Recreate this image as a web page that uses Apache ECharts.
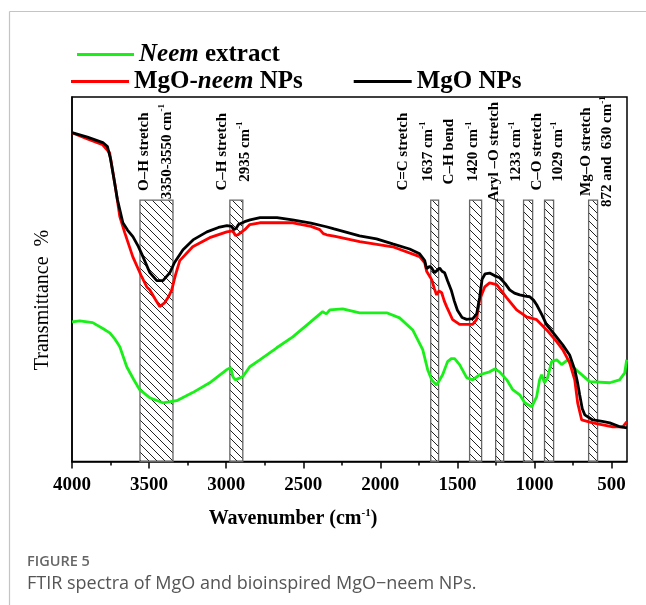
<!DOCTYPE html>
<html><head><meta charset="utf-8">
<script src="https://cdn.jsdelivr.net/npm/echarts@6/dist/echarts.min.js"></script>
<style>html,body{margin:0;padding:0;background:#fff}#c{width:646px;height:605px}</style>
</head><body><div id="c"></div>
<script>
// ---------- data ----------
const X_MAJOR = [4000, 3500, 3000, 2500, 2000, 1500, 1000, 500];
const X_MINOR = [3750, 3250, 2750, 2250, 1750, 1250, 750];

const NEEM_WN = [4000,3950,3866,3800,3755,3720,3690,3645,3600,3561,3496,3411,3321,3217,3107,2996,2970,2957,2940,2931,2892,2847,2782,2672,2568,2458,2374,2350,2328,2244,2134,1959,1875,1790,1725,1693,1667,1635,1596,1564,1540,1518,1486,1440,1401,1356,1291,1258,1226,1180,1141,1096,1063,1018,986,967,954,935,915,889,856,824,785,752,707,642,512,448,415,402];
const NEEM_T  = [38.3,38.6,38.1,36.5,35.3,33.5,31.5,26.0,22.5,19.7,17.5,16.1,16.7,18.9,21.6,25.2,25.8,23.3,22.4,22.7,23.3,26.0,27.9,31.2,34.2,38.1,41.1,40.5,41.6,41.9,40.8,40.8,39.4,36.1,30.7,25.2,22.4,21.0,23.8,27.4,28.2,28.2,26.6,23.0,22.4,23.8,24.6,25.4,24.6,22.4,19.7,18.3,16.1,15.0,17.8,22.4,23.8,21.6,23.0,27.4,27.9,26.6,27.9,26.0,24.3,21.9,21.6,22.4,24.3,27.9];

const MGONEEM_WN = [4000,3900,3801,3756,3723,3690,3658,3606,3548,3515,3496,3460,3431,3400,3370,3353,3330,3301,3217,3107,2996,2957,2940,2924,2900,2879,2847,2782,2568,2450,2393,2370,2348,2300,2134,1920,1745,1712,1699,1667,1650,1635,1620,1602,1585,1570,1531,1486,1401,1376,1356,1323,1291,1245,1180,1116,1051,986,921,856,817,772,739,720,694,622,492,427,402];
const MGONEEM_T  = [90.2,88.5,86.9,84.7,76.5,67.2,62.8,56.2,50.7,47.9,47.1,44.5,42.5,43.5,45.5,47.1,51.0,55.1,58.9,61.4,63.0,63.3,62.0,62.2,63.0,63.6,65.0,65.5,65.5,64.5,63.6,62.5,62.2,61.8,60.3,58.9,56.2,54.5,52.1,49.9,47.5,45.7,46.8,46.3,44.0,42.5,38.9,37.6,37.6,38.9,44.4,47.9,49.0,48.5,44.9,41.6,39.7,38.9,36.1,32.9,30.7,27.1,22.4,16.1,11.4,10.6,9.5,9.5,10.9];

const MGO_WN = [4000,3900,3800,3770,3750,3735,3705,3670,3640,3605,3570,3540,3495,3450,3410,3365,3335,3280,3215,3125,3050,2995,2965,2950,2935,2920,2880,2845,2780,2670,2570,2450,2350,2300,2135,2025,1920,1810,1745,1712,1700,1680,1667,1648,1630,1615,1600,1583,1564,1540,1520,1500,1470,1440,1400,1375,1356,1340,1320,1291,1260,1226,1190,1161,1130,1096,1060,1031,1005,986,955,921,869,817,772,739,720,707,690,674,622,560,512,450,400];
const MGO_T  = [90.2,89.0,87.5,86.4,83.0,79.3,71.8,65.5,63.5,61.7,59.0,56.2,51.8,49.6,49.6,51.8,54.6,58.1,60.8,63.0,64.2,64.7,64.5,63.6,64.0,65.0,65.8,66.3,66.9,66.9,66.3,65.4,64.4,63.8,61.9,61.1,59.7,58.3,57.0,55.1,52.9,53.5,53.1,51.8,52.5,53.1,52.2,51.8,49.6,47.0,44.0,41.5,39.5,39.0,39.2,40.5,45.0,50.0,51.5,51.7,51.0,50.4,48.8,47.1,46.2,45.7,45.4,45.2,44.2,43.0,40.5,37.5,34.8,32.0,29.2,25.2,21.5,18.3,14.5,12.8,11.4,11.0,10.6,9.6,9.2];

// hatched assignment bands (wavenumber high, low)
const BAND_HI = [3559, 2976, 1673, 1421, 1252, 1071, 935, 649];
const BAND_LO = [3345, 2892, 1622, 1343, 1200, 1012, 876, 591];
const HATCH_TOP = 71.7;

// annotation columns
const ANN_WN = [3529, 3386, 3029, 2880, 1855, 1693, 1551, 1395, 1259, 1116, 986, 844, 663, 527];
const ANN_TEXT = ['O–H stretch', '3350-3550 cm^-1', 'C–H stretch', '2935 cm^-1', 'C=C stretch', '1637 cm^-1',
  'C–H bend', '1420 cm^-1', 'Aryl –O stretch', '1233 cm^-1', 'C–O stretch', '1029 cm^-1', 'Mg–O stretch', '872 and  630 cm^-1'];
const ANN_Y = 85.0;

// ---------- chart ----------
const SERIF = "'Liberation Serif', 'Times New Roman', serif";
const zip = (a, b) => a.map((v, i) => [v, b[i]]);

function hatchCanvas() {
  const c = document.createElement('canvas'); c.width = 8; c.height = 8;
  const g = c.getContext('2d');
  g.strokeStyle = '#222'; g.lineWidth = 1;
  g.beginPath();
  g.moveTo(-1, -1); g.lineTo(9, 9);
  g.moveTo(-1, 7); g.lineTo(1, 9);
  g.moveTo(7, -1); g.lineTo(9, 1);
  g.stroke();
  return c;
}
const PAT = hatchCanvas();

function supText(s) {
  if (s.indexOf('^') < 0) return '{a|' + s + '}';
  const p = s.split('^');
  return '{a|' + p[0] + '}{s|' + p[1] + '}';
}

const chart = echarts.init(document.getElementById('c'), null, { renderer: 'canvas' });

const LF = 25;
const legendText = {
  fontFamily: SERIF, fontWeight: 'bold', fontSize: LF, color: '#000',
  rich: {
    i: { fontFamily: SERIF, fontWeight: 'bold', fontStyle: 'italic', fontSize: LF, color: '#000' },
    b: { fontFamily: SERIF, fontWeight: 'bold', fontSize: LF, color: '#000' }
  }
};
const legendFmt = n => {
  if (n === 'Neem extract') return '{i|Neem} {b|extract}';
  if (n === 'MgO-neem NPs') return '{b|MgO-}{i|neem}{b| NPs}';
  return '{b|' + n + '}';
};

chart.setOption({
  animation: false,
  backgroundColor: '#fff',
  grid: { left: 72, right: 19, top: 97, bottom: 143.5, show: true, borderColor: '#000', borderWidth: 1.5, backgroundColor: 'transparent' },
  legend: [
    { data: ['Neem extract'], left: 72, top: 37, icon: 'rect', itemWidth: 57, itemHeight: 3, formatter: legendFmt, textStyle: legendText, selectedMode: false },
    { data: ['MgO-neem NPs', 'MgO NPs'], left: 66, top: 64, icon: 'rect', itemWidth: 58, itemHeight: 3, itemGap: 51, formatter: legendFmt, textStyle: legendText, selectedMode: false }
  ],
  xAxis: [
    {
      type: 'value', min: 400, max: 4000, inverse: true, position: 'bottom',
      axisLine: { show: true, onZero: false, lineStyle: { color: '#000', width: 1.5 } },
      axisTick: { show: true, inside: false, length: 7, customValues: X_MAJOR, lineStyle: { color: '#000', width: 1.5 } },
      axisLabel: { customValues: X_MAJOR, margin: 14, formatter: v => String(v), fontFamily: SERIF, fontWeight: 'bold', fontSize: 19, color: '#000' },
      splitLine: { show: false }
    },
    {
      type: 'value', min: 400, max: 4000, inverse: true, position: 'bottom', gridIndex: 0,
      axisLine: { show: false },
      axisTick: { show: true, inside: false, length: 4, customValues: X_MINOR, lineStyle: { color: '#000', width: 1.5 } },
      axisLabel: { show: false },
      splitLine: { show: false }
    }
  ],
  yAxis: {
    type: 'value', min: 0, max: 100,
    axisLine: { show: true, lineStyle: { color: '#000', width: 1.5 } },
    axisTick: { show: false }, axisLabel: { show: false }, splitLine: { show: false }
  },
  series: [
    {
      type: 'custom', name: 'bands', silent: true, z: 1,
      data: BAND_HI.map((h, i) => [h, BAND_LO[i], HATCH_TOP]),
      encode: { x: [0, 1], y: 2 },
      renderItem: (params, api) => {
        const a = api.coord([api.value(0), api.value(2)]);
        const b = api.coord([api.value(1), 0]);
        return {
          type: 'rect',
          shape: { x: Math.min(a[0], b[0]), y: a[1], width: Math.abs(b[0] - a[0]), height: b[1] - a[1] },
          style: { fill: { image: PAT, repeat: 'repeat' }, stroke: '#666', lineWidth: 1.3 }
        };
      }
    },
    {
      type: 'custom', name: 'labels', silent: true, z: 5,
      data: ANN_WN.map((w, i) => [w, ANN_Y, i]),
      encode: { x: 0, y: 1 },
      renderItem: (params, api) => {
        const p = api.coord([api.value(0), api.value(1)]);
        return {
          type: 'text', x: p[0], y: p[1], rotation: Math.PI / 2,
          style: {
            text: supText(ANN_TEXT[api.value(2)]),
            align: 'center', verticalAlign: 'middle', fill: '#000',
            rich: {
              a: { fontFamily: SERIF, fontWeight: 'bold', fontSize: 15, lineHeight: 18, fill: '#000' },
              s: { fontFamily: SERIF, fontWeight: 'bold', fontSize: 9, lineHeight: 9, verticalAlign: 'top', fill: '#000' }
            }
          }
        };
      }
    },
    { type: 'line', name: 'Neem extract', data: zip(NEEM_WN, NEEM_T), showSymbol: false, symbol: 'none', color: '#18f018', lineStyle: { color: '#18f018', width: 2.8 }, z: 3 },
    { type: 'line', name: 'MgO-neem NPs', data: zip(MGONEEM_WN, MGONEEM_T), showSymbol: false, symbol: 'none', color: '#ff0000', lineStyle: { color: '#ff0000', width: 2.8 }, z: 3 },
    { type: 'line', name: 'MgO NPs', data: zip(MGO_WN, MGO_T), showSymbol: false, symbol: 'none', color: '#000000', lineStyle: { color: '#000', width: 2.8 }, z: 4 }
  ],
  graphic: [
    { type: 'line', shape: { x1: 9.5, y1: 11.5, x2: 646, y2: 11.5 }, style: { stroke: '#c4c4c4', lineWidth: 1.2 } },
    { type: 'line', shape: { x1: 9.5, y1: 11.5, x2: 9.5, y2: 605 }, style: { stroke: '#c4c4c4', lineWidth: 1.2 } },
    { type: 'text', x: 293, y: 519, style: { text: '{a|Wavenumber (cm}{s|-1}{a|)}', align: 'center', verticalAlign: 'middle',
      rich: { a: { fontFamily: SERIF, fontWeight: 'bold', fontSize: 20, lineHeight: 22, fill: '#000' }, s: { fontFamily: SERIF, fontWeight: 'bold', fontSize: 11, lineHeight: 11, verticalAlign: 'top', fill: '#000' } } } },
    { type: 'text', x: 43, y: 300, rotation: Math.PI / 2, style: { text: 'Transmittance  %', align: 'center', verticalAlign: 'middle', fontFamily: SERIF, fontSize: 20, fill: '#000' } },
    { type: 'text', x: 27, y: 562, style: { text: 'FIGURE 5', verticalAlign: 'middle', fontFamily: "'Open Sans', sans-serif", fontSize: 14.5, fontWeight: 600, fill: '#666' } },
    { type: 'text', x: 27, y: 584, style: { text: 'FTIR spectra of MgO and bioinspired MgO−neem NPs.', verticalAlign: 'middle', fontFamily: "'Open Sans', sans-serif", fontSize: 18, fill: '#555' } }
  ]
});
</script></body></html>
